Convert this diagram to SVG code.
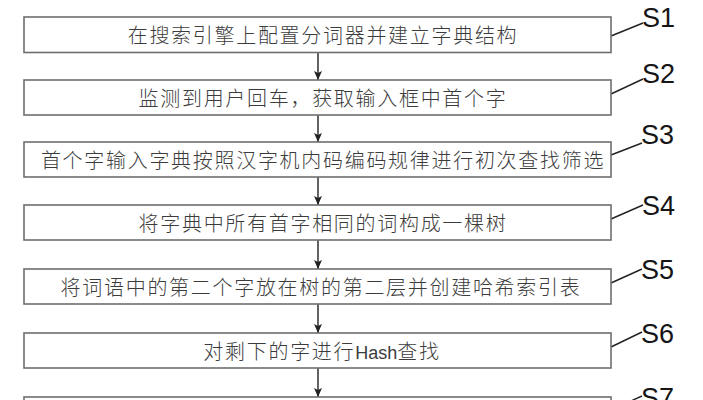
<svg xmlns="http://www.w3.org/2000/svg" width="703" height="400" viewBox="0 0 703 400">
<style>
.box{fill:#fff;stroke:#6e6e6e;stroke-width:1.6}
.t{font-family:"Noto Sans CJK SC","Noto Sans",sans-serif;font-size:20px;font-weight:300;letter-spacing:1.7px;fill:#3c3c3c;text-anchor:middle}
.lat{font-family:"Liberation Sans",Arial,sans-serif;font-size:18px;font-weight:400;letter-spacing:0}
.lbl{font-family:"Liberation Sans",Arial,sans-serif;font-size:27px;fill:#151515}
.lead{stroke:#222;stroke-width:1.4;fill:none}
.arr{stroke:#222;stroke-width:1.4;fill:none;marker-end:url(#ah)}
</style>
<defs>
<marker id="ah" markerWidth="10" markerHeight="10" refX="9" refY="4" orient="auto" markerUnits="userSpaceOnUse">
<path d="M0,0 L9,4 L0,8 L2,4 z" fill="#222"/>
</marker>
</defs>
<rect width="703" height="400" fill="#fff"/>
<g id="connectors">
<line class="arr" x1="318" y1="53" x2="318" y2="80"/>
<line class="arr" x1="318" y1="115" x2="318" y2="142"/>
<line class="arr" x1="318" y1="177" x2="318" y2="205"/>
<line class="arr" x1="318" y1="240" x2="318" y2="269"/>
<line class="arr" x1="318" y1="304" x2="318" y2="333"/>
<line class="arr" x1="318" y1="368" x2="318" y2="397"/>
<line class="lead" x1="611" y1="36" x2="643" y2="23"/>
<line class="lead" x1="611" y1="94" x2="643" y2="79"/>
<line class="lead" x1="611" y1="155" x2="642" y2="143"/>
<line class="lead" x1="611" y1="219" x2="643" y2="205"/>
<line class="lead" x1="611" y1="283" x2="642" y2="269"/>
<line class="lead" x1="611" y1="347" x2="642" y2="332"/>
<line class="lead" x1="611" y1="410" x2="642" y2="396"/>
</g>
<g id="s1">
<rect class="box" x="24" y="17" width="587" height="35.5"/>
<text class="t" x="323" y="42.5">在搜索引擎上配置分词器并建立字典结构</text>
<text class="lbl" x="642" y="26.7">S1</text>
</g>
<g id="s2">
<rect class="box" x="24" y="80" width="587" height="35"/>
<text class="t" x="323" y="105.5">监测到用户回车，获取输入框中首个字</text>
<text class="lbl" x="642" y="83">S2</text>
</g>
<g id="s3">
<rect class="box" x="24" y="142" width="587" height="35"/>
<text class="t" x="323" y="167.5">首个字输入字典按照汉字机内码编码规律进行初次查找筛选</text>
<text class="lbl" x="641" y="144">S3</text>
</g>
<g id="s4">
<rect class="box" x="24" y="205" width="587" height="35"/>
<text class="t" x="323" y="230.5">将字典中所有首字相同的词构成一棵树</text>
<text class="lbl" x="642" y="215">S4</text>
</g>
<g id="s5">
<rect class="box" x="24" y="269" width="587" height="35"/>
<text class="t" x="321" y="294.5">将词语中的第二个字放在树的第二层并创建哈希索引表</text>
<text class="lbl" x="641" y="279">S5</text>
</g>
<g id="s6">
<rect class="box" x="24" y="333" width="587" height="35"/>
<text class="t" x="322" y="358.5">对剩下的字进行<tspan class="lat">Hash</tspan>查找</text>
<text class="lbl" x="641" y="343">S6</text>
</g>
<g id="s7">
<rect class="box" x="24" y="397" width="587" height="35"/>
<text class="lbl" x="641" y="407">S7</text>
</g>
</svg>
